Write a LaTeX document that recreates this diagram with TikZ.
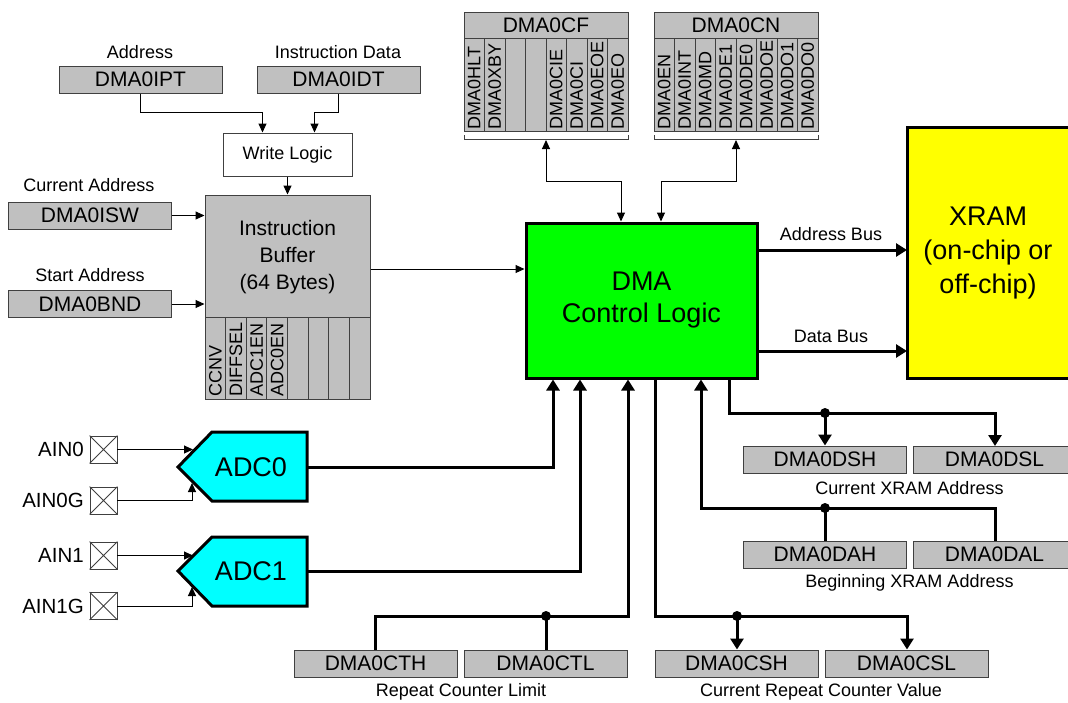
\documentclass[tikz,border=0pt]{standalone}
\usepackage{fontspec}
\setmainfont{Liberation Sans}
\usetikzlibrary{arrows.meta}
\definecolor{regfill}{HTML}{C0C0C0}
\definecolor{dmagreen}{HTML}{00FF00}
\definecolor{adccyan}{HTML}{00FFFF}
\definecolor{xramyellow}{HTML}{FFFF00}
\definecolor{edgecol}{HTML}{404040}
\begin{document}
\begin{tikzpicture}[x=1pt,y=-1pt,
  reg/.style={draw=edgecol,fill=regfill,line width=1pt,minimum width=163pt,minimum height=27pt,inner sep=0pt,font=\fontsize{21}{21}\selectfont},
  lbl/.style={inner sep=0pt,font=\fontsize{18}{18}\selectfont},
  bitcol/.style={draw=edgecol,fill=regfill,line width=1pt,minimum width=20.5pt,inner sep=0pt},
  bittxt/.style={rotate=90,anchor=west,inner sep=0pt,font=\fontsize{18}{18}\selectfont},
  pin/.style={draw=edgecol,fill=white,line width=0.8pt,minimum size=27pt,inner sep=0pt},
  thinarr/.style={line width=1pt,-{Triangle[length=9pt,width=8pt]}},
  thinboth/.style={line width=1pt,{Triangle[length=9pt,width=8pt]}-{Triangle[length=9pt,width=8pt]}},
  busarr/.style={line width=3pt,-{Triangle[length=11pt,width=13pt]}},
  busline/.style={line width=3pt},
  jdot/.style={circle,fill=black,inner sep=0pt,minimum size=10pt},
  bigtxt/.style={inner sep=0pt,align=center},
]
\useasboundingbox (0,0) rectangle (1068,702);
\fill[white] (0,0) rectangle (1068,702);

% ---------- top-left registers ----------
\node[lbl] (laddr) at (140,52) {Address};
\node[reg] (ipt) at (140.5,79.5) {DMA0IPT};
\node[lbl] (lidata) at (338,52) {Instruction Data};
\node[reg] (idt) at (338.5,79.5) {DMA0IDT};
\node[draw=edgecol,fill=white,line width=1pt,minimum width=129pt,minimum height=43pt,inner sep=0pt,font=\fontsize{18}{18}\selectfont] (wl) at (287.5,154.5) {Write Logic};
\draw[thinarr] (ipt.south) |- ([xshift=-25pt,yshift=20pt]wl.north) -- ([xshift=-25pt]wl.north);
\draw[thinarr] (idt.south) |- ([xshift=27pt,yshift=20pt]wl.north) -- ([xshift=27pt]wl.north);

% ---------- instruction buffer ----------
\node[draw=edgecol,fill=regfill,line width=1pt,minimum width=165pt,minimum height=122pt,inner sep=0pt] (buf) at (287.5,256) {};
\node[bigtxt,font=\fontsize{21}{27}\selectfont] (buftxt) at (287.5,257) {Instruction\\Buffer\\(64 Bytes)};
\foreach \t [count=\i from 0] in {CCNV,DIFFSEL,ADC1EN,ADC0EN,{},{},{},{}} {
  \node[bitcol,minimum width=20.625pt,minimum height=82pt] (bb\i) at ({205+20.625*(\i+0.5)},358) {};
  \node[bittxt] (bbt\i) at ({205+20.625*(\i+0.5)},397) {\t};
}
\draw[thinarr] (wl.south) -- (buf.north);

\node[lbl] (lcur) at (89,185) {Current Address};
\node[reg] (isw) at (90,215.5) {DMA0ISW};
\node[lbl] (lstart) at (90,275) {Start Address};
\node[reg] (bnd) at (90,304) {DMA0BND};
\draw[thinarr] (isw.east) -- (isw.east -| buf.west);
\draw[thinarr] (bnd.east) -- (bnd.east -| buf.west);

% ---------- DMA control logic ----------
\node[draw=black,fill=dmagreen,line width=3pt,minimum width=231pt,minimum height=155pt,inner sep=0pt] (dma) at (641.5,300.5) {};
\node[bigtxt,font=\fontsize{27}{32}\selectfont] (dmatxt) at (641.5,300) {DMA\\Control Logic};
\draw[thinarr] ([yshift=-13pt]buf.east) -- ([yshift=-13pt]buf.east -| dma.west);

% ---------- XRAM ----------
\node[fill=xramyellow,minimum width=163pt,minimum height=251pt,inner sep=0pt,anchor=north west] (xram) at (907,127) {};
\draw[line width=3pt] (1072,127) -- (907,127) -- (907,378) -- (1072,378);
\node[bigtxt,font=\fontsize{27}{34}\selectfont] (xramtxt) at (988,253) {XRAM\\(on-chip or\\off-chip)};
\draw[busarr] (dma.east |- 0,250) -- (xram.west |- 0,250);
\draw[busarr] (dma.east |- 0,351) -- (xram.west |- 0,351);
\node[lbl] (labus) at (831,234) {Address Bus};
\node[lbl] (ldbus) at (831,336) {Data Bus};

% ---------- DMA0CF ----------
\node[reg,minimum width=164pt,minimum height=26pt] (cf) at (546,25) {DMA0CF};
\foreach \t [count=\i from 0] in {DMA0HLT,DMA0XBY,{},{},DMA0CIE,DMA0CI,DMA0EOE,DMA0EO} {
  \node[bitcol,minimum height=93pt] (cfb\i) at ({464+20.5*(\i+0.5)},84.5) {};
  \node[bittxt] (cft\i) at ({464+20.5*(\i+0.5)},129.5) {\t};
}
\draw[edgecol,line width=1pt] (464,135) -- (464,139) -- (628,139) -- (628,135);
\coordinate (cfarr) at (546,140);
\draw[thinboth] (cfarr) |- (621,181) -- (dma.north -| 621,0);

% ---------- DMA0CN ----------
\node[reg,minimum width=164pt,minimum height=26pt] (cn) at (736,25) {DMA0CN};
\foreach \t [count=\i from 0] in {DMA0EN,DMA0INT,DMA0MD,DMA0DE1,DMA0DE0,DMA0DOE,DMA0DO1,DMA0DO0} {
  \node[bitcol,minimum height=93pt] (cnb\i) at ({654+20.5*(\i+0.5)},84.5) {};
  \node[bittxt] (cnt\i) at ({654+20.5*(\i+0.5)},129.5) {\t};
}
\draw[edgecol,line width=1pt] (654,135) -- (654,139) -- (818,139) -- (818,135);
\coordinate (cnarr) at (736,140);
\draw[thinboth] (cnarr) |- (661,181) -- (dma.north -| 661,0);

% ---------- analog inputs and ADCs ----------
\foreach \n/\y in {AIN0/449.5,AIN0G/500.5,AIN1/555.5,AIN1G/606} {
  \node[pin] (p\n) at (103.5,\y) {};
  \draw[edgecol,line width=0.8pt] (p\n.north west) -- (p\n.south east) (p\n.north east) -- (p\n.south west);
  \node[inner sep=0pt,anchor=east,font=\fontsize{20.5}{20.5}\selectfont] (l\n) at (84,\y) {\n};
}
\draw[line width=3pt,fill=adccyan,line join=miter] (178,467) -- (212,432) -- (307,432) -- (307,501) -- (212,501) -- cycle;
\node[inner sep=0pt,font=\fontsize{27}{27}\selectfont] (adc0) at (251,467) {ADC0};
\draw[line width=3pt,fill=adccyan,line join=miter] (178,571) -- (212,537) -- (307,537) -- (307,606) -- (212,606) -- cycle;
\node[inner sep=0pt,font=\fontsize{27}{27}\selectfont] (adc1) at (251,571) {ADC1};
\coordinate (adc0out) at (307,467);
\coordinate (adc1out) at (307,571);
\coordinate (adc0in) at (193,449.5);
\coordinate (adc0g) at (192,483);
\coordinate (adc1in) at (193,555.5);
\coordinate (adc1g) at (192,587);
\draw[thinarr] (pAIN0.east) -- (adc0in);
\draw[thinarr] (pAIN0G.east) -| (adc0g);
\draw[thinarr] (pAIN1.east) -- (adc1in);
\draw[thinarr] (pAIN1G.east) -| (adc1g);
\draw[busarr] (adc0out) -| (dma.south -| 553,0);
\draw[busarr] (adc1out) -| (dma.south -| 580,0);

% ---------- repeat counter limit ----------
\node[reg] (cth) at (375.5,663.5) {DMA0CTH};
\node[reg] (ctl) at (545.5,663.5) {DMA0CTL};
\node[lbl] (lrcl) at (461,692) {Repeat Counter Limit};
\node[jdot] (j1) at (546,616) {};
\draw[busarr] (cth.north) |- (628,616) -- (dma.south -| 628,0);
\draw[busline] (j1.center) -- (j1 |- ctl.north);

% ---------- current repeat counter value ----------
\node[reg] (csh) at (736.5,663.5) {DMA0CSH};
\node[reg] (csl) at (906.5,663.5) {DMA0CSL};
\node[lbl] (lcrc) at (821,692) {Current Repeat Counter Value};
\node[jdot] (j2) at (737,616) {};
\draw[busarr] (dma.south -| 655,0) |- (907,616) -- (csl.north -| 907,0);
\draw[busarr] (j2.center) -- (j2 |- csh.north);

% ---------- current XRAM address ----------
\node[reg] (dsh) at (825,459.5) {DMA0DSH};
\node[fill=regfill,minimum width=163pt,minimum height=27pt,inner sep=0pt,anchor=north west] (dsl) at (913,446) {};
\draw[edgecol,line width=1pt] (1072,446) -- (913,446) -- (913,473) -- (1072,473);
\node[inner sep=0pt,font=\fontsize{21}{21}\selectfont] (dsltxt) at (994.5,459.5) {DMA0DSL};
\node[lbl] (lcxa) at (909.5,488) {Current XRAM Address};
\node[jdot] (j3) at (825,413) {};
\draw[busarr] (dma.south -| 729,0) |- (995,413) -- (dsl.north -| 995,0);
\draw[busarr] (j3.center) -- (j3 |- dsh.north);

% ---------- beginning XRAM address ----------
\node[reg] (dah) at (825,554.5) {DMA0DAH};
\node[fill=regfill,minimum width=163pt,minimum height=27pt,inner sep=0pt,anchor=north west] (dal) at (913,541) {};
\draw[edgecol,line width=1pt] (1072,541) -- (913,541) -- (913,568) -- (1072,568);
\node[inner sep=0pt,font=\fontsize{21}{21}\selectfont] (daltxt) at (994.5,554.5) {DMA0DAL};
\node[lbl] (lbxa) at (909.5,583) {Beginning XRAM Address};
\node[jdot] (j4) at (825,508) {};
\draw[busarr] (dal.north -| 995,0) |- (701,508) -- (dma.south -| 701,0);
\draw[busline] (j4.center) -- (j4 |- dah.north);
\end{tikzpicture}
\end{document}
